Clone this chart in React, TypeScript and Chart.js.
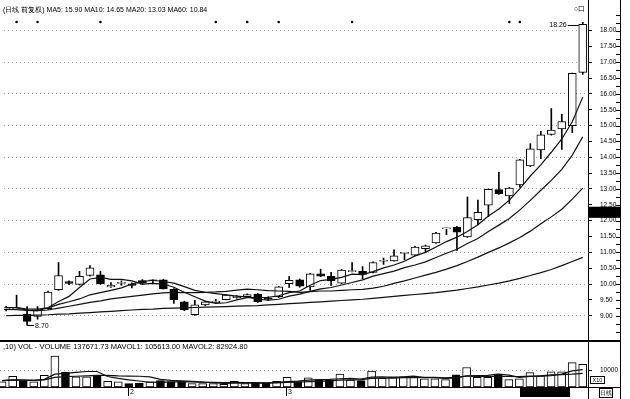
import React, { useEffect, useRef } from "react";
import { Chart, registerables } from "chart.js";

Chart.register(...registerables);

// ---------- data ----------
const opens = [9.19, 9.22, 9.05, 8.98, 9.22, 9.82, 10.08, 9.99, 10.27, 10.29, 9.91, 10.02, 10.01, 10.11, 10.10, 10.13, 9.84, 9.44, 9.03, 9.34, 9.41, 9.51, 9.57, 9.60, 9.68, 9.56, 9.60, 10.01, 10.13, 9.91, 10.32, 10.24, 10.03, 10.39, 10.40, 10.37, 10.72, 10.73, 10.97, 10.91, 11.12, 11.30, 11.74, 11.79, 11.49, 12.03, 12.49, 12.98, 12.78, 13.13, 13.73, 14.23, 14.72, 14.90, 15.00, 16.68];
const closes = [9.26, 9.23, 8.82, 9.18, 9.75, 10.27, 10.02, 10.24, 10.51, 10.01, 9.96, 10.04, 9.96, 10.04, 10.12, 9.85, 9.51, 9.18, 9.34, 9.44, 9.46, 9.65, 9.62, 9.67, 9.44, 9.52, 9.91, 10.12, 9.93, 10.32, 10.25, 10.11, 10.44, 10.41, 10.30, 10.68, 10.74, 10.89, 10.98, 11.17, 11.21, 11.61, 11.75, 11.64, 12.10, 12.26, 12.99, 12.85, 13.03, 13.92, 14.27, 14.71, 14.86, 15.13, 16.65, 18.20];
const highs = [9.30, 9.65, 9.29, 9.29, 9.78, 10.68, 10.10, 10.40, 10.58, 10.40, 10.05, 10.10, 10.04, 10.14, 10.13, 10.15, 9.86, 9.46, 9.49, 9.46, 9.52, 9.67, 9.64, 9.69, 9.70, 9.60, 9.93, 10.24, 10.16, 10.34, 10.47, 10.37, 10.46, 10.68, 10.55, 10.70, 10.82, 11.08, 10.99, 11.19, 11.23, 11.63, 11.77, 11.82, 12.75, 12.65, 13.00, 13.53, 13.05, 13.94, 14.43, 14.82, 15.54, 15.36, 16.66, 18.26];
const lows = [9.15, 9.20, 8.70, 8.89, 9.20, 9.80, 9.98, 9.97, 10.25, 9.99, 9.89, 9.96, 9.88, 9.98, 10.02, 9.84, 9.39, 9.16, 9.01, 9.32, 9.40, 9.50, 9.55, 9.58, 9.42, 9.48, 9.57, 9.89, 9.90, 9.80, 10.23, 9.96, 10.01, 10.38, 10.17, 10.35, 10.62, 10.72, 10.76, 10.89, 10.99, 11.28, 11.56, 11.06, 11.47, 11.87, 12.13, 12.83, 12.54, 13.06, 13.71, 13.96, 14.70, 14.25, 14.78, 16.62];

const ma5 = [9.26, 9.26, 9.17, 9.16, 9.25, 9.45, 9.61, 9.89, 10.16, 10.21, 10.15, 10.15, 10.10, 10.00, 10.02, 10.00, 9.90, 9.74, 9.60, 9.46, 9.39, 9.41, 9.50, 9.57, 9.57, 9.58, 9.63, 9.73, 9.78, 9.96, 10.11, 10.15, 10.21, 10.31, 10.30, 10.39, 10.51, 10.60, 10.72, 10.89, 11.00, 11.17, 11.34, 11.48, 11.66, 11.87, 12.15, 12.37, 12.65, 13.01, 13.41, 13.76, 14.16, 14.58, 15.12, 15.90];
const ma10 = [9.26, 9.26, 9.21, 9.21, 9.25, 9.36, 9.44, 9.53, 9.66, 9.73, 9.80, 9.88, 10.00, 10.08, 10.12, 10.08, 10.03, 9.92, 9.80, 9.74, 9.70, 9.66, 9.62, 9.59, 9.52, 9.49, 9.52, 9.62, 9.68, 9.77, 9.85, 9.89, 9.97, 10.05, 10.13, 10.25, 10.33, 10.41, 10.52, 10.60, 10.70, 10.84, 10.97, 11.10, 11.28, 11.44, 11.66, 11.86, 12.07, 12.34, 12.64, 12.96, 13.27, 13.62, 14.07, 14.65];
const ma20 = [9.20, 9.19, 9.17, 9.16, 9.18, 9.24, 9.30, 9.36, 9.42, 9.47, 9.53, 9.57, 9.61, 9.65, 9.69, 9.72, 9.74, 9.73, 9.73, 9.74, 9.75, 9.77, 9.81, 9.84, 9.82, 9.79, 9.78, 9.77, 9.74, 9.76, 9.78, 9.78, 9.80, 9.82, 9.83, 9.87, 9.93, 10.02, 10.10, 10.19, 10.28, 10.37, 10.47, 10.58, 10.71, 10.85, 11.00, 11.14, 11.30, 11.47, 11.67, 11.90, 12.12, 12.36, 12.68, 13.03];
const ma60 = [9.00, 9.01, 9.01, 9.02, 9.03, 9.05, 9.06, 9.08, 9.10, 9.12, 9.14, 9.16, 9.18, 9.20, 9.21, 9.23, 9.24, 9.25, 9.26, 9.27, 9.28, 9.29, 9.30, 9.31, 9.32, 9.34, 9.36, 9.38, 9.40, 9.42, 9.44, 9.46, 9.48, 9.50, 9.52, 9.55, 9.58, 9.61, 9.64, 9.67, 9.70, 9.73, 9.77, 9.81, 9.86, 9.91, 9.97, 10.03, 10.10, 10.18, 10.27, 10.36, 10.46, 10.58, 10.71, 10.84];

const volumes = [31700, 65000, 35000, 31700, 70600, 187200, 90600, 61100, 61100, 70600, 35000, 31700, 20600, 23900, 31700, 38900, 33300, 33300, 20600, 20600, 20600, 16700, 35000, 20600, 23900, 23900, 35000, 59400, 33300, 55600, 42800, 41700, 77800, 41700, 38900, 97200, 52800, 61100, 61100, 58300, 50000, 50000, 44400, 73900, 118300, 59400, 59400, 77800, 44400, 50000, 87200, 68300, 92800, 92800, 148300, 137672];
const mavol1 = [38300, 43300, 42300, 40700, 46800, 77900, 83000, 88200, 94100, 94100, 63700, 51900, 43800, 36400, 28600, 29400, 29700, 32200, 31600, 29300, 25700, 22400, 22700, 22700, 23400, 24000, 27700, 32600, 35100, 41400, 45200, 46600, 50200, 51900, 48600, 59500, 61700, 58300, 62200, 66100, 56700, 56100, 52800, 55300, 67300, 69200, 71100, 77800, 71900, 58200, 63800, 65500, 68500, 78200, 97900, 105613];
const mavol2 = [39200, 41700, 41200, 40400, 43400, 58100, 63200, 65300, 67400, 70500, 70800, 67500, 66000, 65300, 61400, 46600, 40800, 38000, 34000, 29000, 27600, 26100, 27500, 27200, 26400, 24900, 25100, 27700, 28900, 32400, 34600, 37200, 41400, 43500, 45000, 52400, 54200, 54300, 57100, 57400, 58100, 58900, 55600, 58800, 66700, 63000, 63600, 65300, 63600, 62800, 66500, 68300, 73200, 75100, 78100, 82925];

const priceTicks = [9.0, 9.5, 10.0, 10.5, 11.0, 11.5, 12.0, 12.5, 13.0, 13.5, 14.0, 14.5, 15.0, 15.5, 16.0, 16.5, 17.0, 17.5, 18.0];
const volTicks = [100000];
const volTickLabels = ["10000"];
const signalIdx = [1, 3, 9, 20, 23, 26, 33, 48, 49];
const monthIdx = [12, 27];
const monthLabels = ["2", "3"];

const titleText = "(日线 前复权) MA5: 15.90 MA10: 14.65 MA20: 13.03 MA60: 10.84";
const volTitle = ",10) VOL -  VOLUME 137671.73 MAVOL1: 105613.00 MAVOL2: 82924.80";

// ---------- layout constants ----------
const FONT = '"Liberation Sans", Arial, Helvetica, sans-serif';
const X_MIN = -0.2;
const X_MAX = 55.5;
const P_MIN = 8.42;
const P_MAX = 18.59;
const V_MAX = 255556;
const SIGNAL_LEVEL = 18.27;
const CURSOR_TOP = 12.44;
const CURSOR_BOTTOM = 12.09;

const idx = opens.map((_, i) => i);
const isUp = (i: number) => closes[i] >= opens[i];

const xScaleOpts: any = { type: "linear", min: X_MIN, max: X_MAX, display: false, offset: false };

const maLine = (data: number[]) => ({
  type: "line",
  data: idx.map((i) => ({ x: i, y: data[i] })),
  borderColor: "#111",
  borderWidth: 1.2,
  pointRadius: 0,
  tension: 0,
  fill: false,
  order: 1,
});

const mainDecor = {
  id: "mainDecor",
  afterDraw(chart: any) {
    const { ctx, scales } = chart;
    const x = scales.x;
    const y = scales.y;
    ctx.save();
    ctx.fillStyle = "#000";
    ctx.strokeStyle = "#000";
    ctx.lineWidth = 1;
    ctx.font = `7px ${FONT}`;
    // highest high label
    let hi = 0;
    highs.forEach((v, i) => { if (v > highs[hi]) hi = i; });
    const hx = x.getPixelForValue(hi) - 4;
    const hy = y.getPixelForValue(highs[hi]);
    ctx.beginPath();
    ctx.moveTo(hx - 11, Math.round(hy + 3) + 0.5);
    ctx.lineTo(hx, Math.round(hy + 3) + 0.5);
    ctx.stroke();
    ctx.textAlign = "right";
    ctx.textBaseline = "middle";
    ctx.fillText(highs[hi].toFixed(2), hx - 12, hy + 3);
    // lowest low label
    let lo = 0;
    lows.forEach((v, i) => { if (v < lows[lo]) lo = i; });
    const lx = x.getPixelForValue(lo);
    const ly = y.getPixelForValue(lows[lo]);
    ctx.beginPath();
    ctx.moveTo(lx, Math.round(ly) + 0.5);
    ctx.lineTo(lx + 7, Math.round(ly) + 0.5);
    ctx.stroke();
    ctx.textAlign = "left";
    ctx.fillText(lows[lo].toFixed(2), lx + 8, ly + 1);
    // minor ticks on the far right rule
    for (let v = 8.5; v <= 18.51; v += 0.25) {
      const py = Math.round(y.getPixelForValue(v)) + 0.5;
      ctx.beginPath();
      ctx.moveTo(616, py);
      ctx.lineTo(620, py);
      ctx.stroke();
    }
    // cursor price box on the axis
    const t = y.getPixelForValue(CURSOR_TOP);
    const b = y.getPixelForValue(CURSOR_BOTTOM);
    ctx.fillRect(589, t, 31, b - t);
    ctx.restore();
  },
};

const volDecor = {
  id: "volDecor",
  afterDraw(chart: any) {
    const { ctx, scales } = chart;
    const x = scales.x;
    const base = chart.chartArea.bottom;
    ctx.save();
    ctx.fillStyle = "#000";
    ctx.strokeStyle = "#000";
    ctx.lineWidth = 1;
    ctx.font = `7px ${FONT}`;
    ctx.textAlign = "left";
    ctx.textBaseline = "middle";
    monthIdx.forEach((m, k) => {
      const px = Math.round(x.getPixelForValue(m)) - 0.5;
      ctx.beginPath();
      ctx.moveTo(px, base);
      ctx.lineTo(px, base + 9);
      ctx.stroke();
      ctx.fillText(monthLabels[k], px + 1.5, base + 5);
    });
    ctx.restore();
  },
};

export default function App() {
  const mainRef = useRef<HTMLCanvasElement>(null);
  const volRef = useRef<HTMLCanvasElement>(null);

  useEffect(() => {
    const main = new Chart(mainRef.current as HTMLCanvasElement, {
      type: "bar",
      data: {
        datasets: [
          {
            type: "bar",
            data: idx.map((i) => ({ x: i, y: [lows[i], highs[i]] })),
            backgroundColor: "#000",
            borderWidth: 0,
            barThickness: 1,
            grouped: false,
            order: 5,
          },
          {
            type: "bar",
            data: idx.map((i) => ({ x: i, y: [opens[i], closes[i]] })),
            backgroundColor: idx.map((i) => (isUp(i) ? "#fff" : "#000")),
            borderColor: "#000",
            borderWidth: 1,
            borderSkipped: false,
            barThickness: 8,
            minBarLength: 1,
            grouped: false,
            order: 4,
          },
          maLine(ma5),
          maLine(ma10),
          maLine(ma20),
          maLine(ma60),
          {
            type: "line",
            data: signalIdx.map((i) => ({ x: i, y: SIGNAL_LEVEL })),
            showLine: false,
            pointRadius: 1.3,
            pointBackgroundColor: "#000",
            pointBorderWidth: 0,
            order: 0,
          },
        ] as any,
      },
      options: {
        animation: false,
        responsive: false,
        devicePixelRatio: 1,
        layout: { padding: { top: 8, bottom: 8, left: 0, right: 0 } },
        plugins: { legend: { display: false }, tooltip: { enabled: false }, title: { display: false } },
        scales: {
          x: xScaleOpts,
          y: {
            position: "right",
            min: P_MIN,
            max: P_MAX,
            afterBuildTicks: (s: any) => { s.ticks = priceTicks.map((v) => ({ value: v })); },
            afterFit: (s: any) => { s.width = 42; },
            ticks: {
              autoSkip: false,
              color: "#000",
              padding: 8,
              font: { family: FONT, size: 6.5 },
              callback: (v: any) => Number(v).toFixed(2),
            },
            grid: {
              color: (c: any) => (c.tick && Number.isInteger(c.tick.value) ? "#a8a8a8" : "rgba(0,0,0,0)"),
              tickColor: "#000",
              tickLength: 4,
              lineWidth: 1,
            },
            border: { display: true, color: "#000", width: 1, dash: [1, 3] },
          },
        },
      } as any,
      plugins: [mainDecor],
    });

    const vol = new Chart(volRef.current as HTMLCanvasElement, {
      type: "bar",
      data: {
        datasets: [
          {
            type: "bar",
            data: idx.map((i) => ({ x: i, y: volumes[i] })),
            backgroundColor: idx.map((i) => (isUp(i) ? "#fff" : "#000")),
            borderColor: "#000",
            borderWidth: 1,
            borderSkipped: false,
            barThickness: 8,
            grouped: false,
            order: 3,
          },
          maLine(mavol1),
          maLine(mavol2),
        ] as any,
      },
      options: {
        animation: false,
        responsive: false,
        devicePixelRatio: 1,
        layout: { padding: { top: 8, bottom: 12, left: 0, right: 0 } },
        plugins: { legend: { display: false }, tooltip: { enabled: false } },
        scales: {
          x: xScaleOpts,
          y: {
            position: "right",
            min: 0,
            max: V_MAX,
            afterBuildTicks: (s: any) => { s.ticks = volTicks.map((v) => ({ value: v })); },
            afterFit: (s: any) => { s.width = 42; },
            ticks: {
              autoSkip: false,
              color: "#000",
              padding: 8,
              font: { family: FONT, size: 6.5 },
              callback: (v: any) => volTickLabels[volTicks.indexOf(Number(v))] ?? "",
            },
            grid: { color: "#a8a8a8", tickColor: "#000", tickLength: 4, lineWidth: 1 },
            border: { display: true, color: "#000", width: 1, dash: [1, 3] },
          },
        },
      } as any,
      plugins: [volDecor],
    });

    return () => {
      main.destroy();
      vol.destroy();
    };
  }, []);

  const abs = (s: any): any => ({ position: "absolute", ...s });
  const txt = { fontFamily: FONT, color: "#000", whiteSpace: "nowrap" as const };

  return (
    <div style={abs({ left: 0, top: 0, width: 630, height: 399, background: "#fff", overflow: "hidden" })}>
      <canvas ref={mainRef} width={630} height={346} style={abs({ left: 0, top: 0, width: 630, height: 346 })} />
      <canvas ref={volRef} width={630} height={66} style={abs({ left: 0, top: 333, width: 630, height: 66 })} />

      {/* frame rules */}
      <div style={abs({ left: 588, top: 0, width: 1, height: 399, background: "#000" })} />
      <div style={abs({ left: 620, top: 0, width: 1, height: 399, background: "#000" })} />
      <div style={abs({ left: 0, top: 340, width: 621, height: 2, background: "#000" })} />
      <div style={abs({ left: 0, top: 387, width: 621, height: 1, background: "#000" })} />

      {/* header texts */}
      <div style={abs({ ...txt, left: 3, top: 6, fontSize: 7, lineHeight: "8px" })}>{titleText}</div>
      <div style={abs({ ...txt, left: 574, top: 5, fontSize: 7, lineHeight: "8px" })}>○口</div>
      <div style={abs({ ...txt, left: 3, top: 343, fontSize: 7.5, lineHeight: "8px" })}>{volTitle}</div>

      {/* bottom strip */}
      <div style={abs({ left: 520, top: 388, width: 50, height: 9, background: "#000" })} />
      <div style={abs({ ...txt, left: 590, top: 376, width: 13, height: 6, border: "1px solid #000", fontSize: 5.5, lineHeight: "6px", textAlign: "center" })}>X10</div>
      <div style={abs({ ...txt, left: 599, top: 388, width: 12, height: 8, border: "1px solid #000", fontSize: 5.5, lineHeight: "8px", textAlign: "center" })}>日线</div>
    </div>
  );
}
